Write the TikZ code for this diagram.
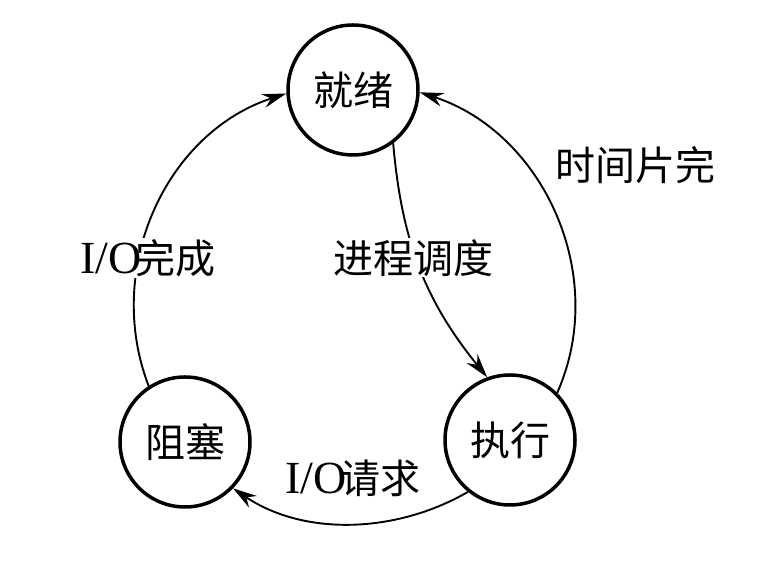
\documentclass[tikz,border=0pt]{standalone}
\usepackage{fontspec}
\setmainfont{Liberation Serif}
\newfontfamily\cjk{Noto Sans CJK SC}
\usetikzlibrary{arrows.meta}
\newcommand\iotext{{\rmfamily\fontsize{46}{46}\selectfont I/O}\kern-6pt}
\begin{document}
\begin{tikzpicture}[x=1pt,y=1pt,
  state/.style={circle,draw,line width=3.5pt,minimum size=130pt,inner sep=0pt,font=\cjk\fontsize{40}{40}\selectfont},
  flow/.style={line width=1.9pt,-{Stealth[length=24pt,width=14pt,inset=8pt]}},
  lbl/.style={fill=white,inner sep=1pt,font=\cjk\fontsize{40}{40}\selectfont}]
\useasboundingbox (0,0) rectangle (774,569);
\node[state] (ready) at (353,479) {就绪};
\node[state] (run) at (510,129) {执行};
\node[state] (block) at (185,127) {阻塞};
\draw[flow] (block.123) to[out=111,in=198] (ready.183);
\draw[flow] (ready.-53) to[out=-85,in=129] (run.110);
\draw[flow] (run.45) to[out=66,in=-18] (ready.-2);
\draw[flow] (run.231) to[out=210,in=-34,looseness=0.92] (block.-44);
\node[lbl] (l1) at (148,311) {\iotext 完成};
\node[lbl] (l2) at (413,311) {进程调度};
\node[lbl] (l3) at (635,404) {时间片完};
\node[lbl] (l4) at (353,91) {\iotext 请求};
\end{tikzpicture}
\end{document}
